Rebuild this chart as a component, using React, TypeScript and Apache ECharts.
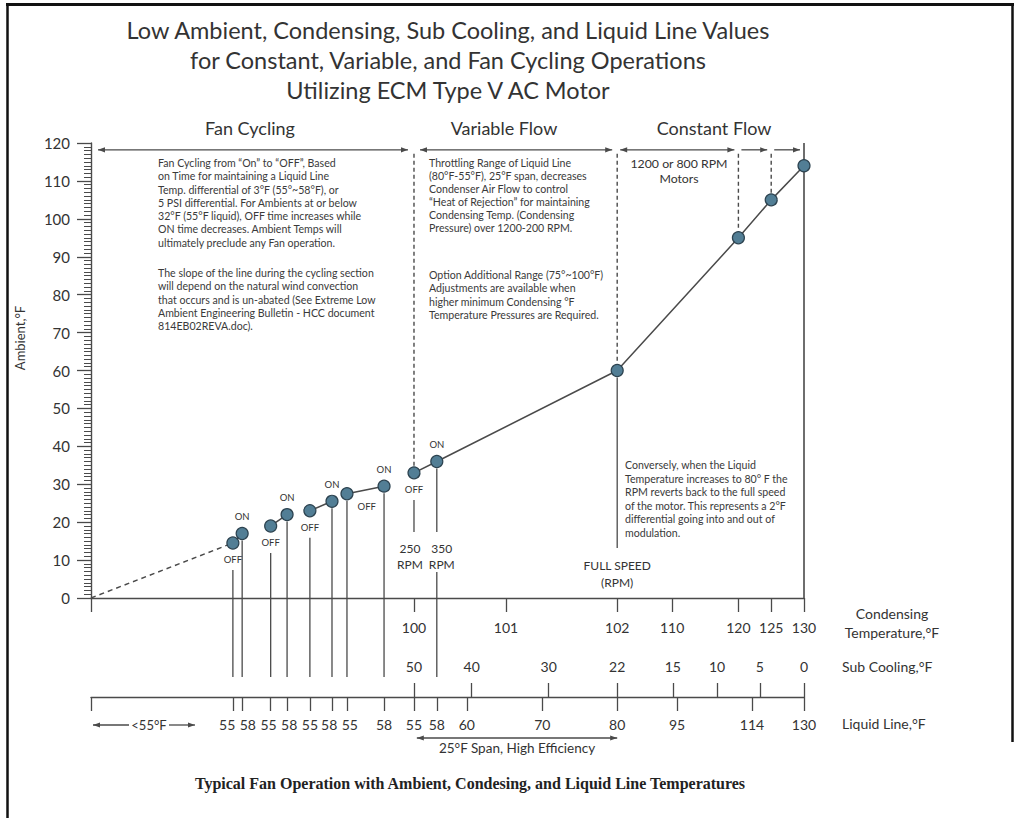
import React, { useEffect, useRef } from "react";
import * as echarts from "echarts";

// ---- Data (schematic horizontal position: 0 = origin, 100 = 130°F end) ----
const pointPos = [19.9, 21.2, 25.2, 27.5, 30.7, 33.8, 35.9, 41.1, 45.3, 48.5, 73.8, 90.8, 95.4, 100];
const ambient = [14.5, 17, 19, 22, 23, 25.5, 27.5, 29.5, 33, 36, 60, 95, 105, 114];
const pointState = ["OFF", "ON", "OFF", "ON", "OFF", "ON", "OFF", "ON", "OFF", "ON", "", "", "", ""];

const condensingPos = [45.3, 58.2, 73.8, 81.5, 90.8, 95.4, 100];
const condensingLabels = ["100", "101", "102", "110", "120", "125", "130"];
const subCoolPos = [45.3, 53.4, 64.2, 73.8, 81.6, 87.8, 93.8, 100];
const subCoolLabels = ["50", "40", "30", "22", "15", "10", "5", "0"];
const liquidPos = [19.9, 21.2, 25.2, 27.5, 30.7, 33.8, 35.9, 41.1, 45.3, 48.5, 52.7, 63.3, 73.8, 82.2, 92.7, 100];
const liquidLabels = ["55", "58", "55", "58", "55", "58", "55", "58", "55", "58", "60", "70", "80", "95", "114", "130"];
const yTicks = [0, 120, 10];

const titleLines = [
  "Low Ambient, Condensing, Sub Cooling, and Liquid Line Values",
  "for Constant, Variable, and Fan Cycling Operations",
  "Utilizing ECM Type V AC Motor",
];
const fanText1 = [
  "Fan Cycling from \u201COn\u201D to \u201COFF\u201D, Based",
  "on Time for maintaining a Liquid Line",
  "Temp. differential of 3°F (55°~58°F), or",
  "5 PSI differential. For Ambients at or below",
  "32°F (55°F liquid), OFF time increases while",
  "ON time decreases. Ambient Temps will",
  "ultimately preclude any Fan operation.",
];
const fanText2 = [
  "The slope of the line during the cycling section",
  "will depend on the natural wind convection",
  "that occurs and is un-abated (See Extreme Low",
  "Ambient Engineering Bulletin - HCC document",
  "814EB02REVA.doc).",
];
const varText1 = [
  "Throttling Range of Liquid Line",
  "(80°F-55°F), 25°F span, decreases",
  "Condenser Air Flow to control",
  "\u201CHeat of Rejection\u201D for maintaining",
  "Condensing Temp. (Condensing",
  "Pressure) over 1200-200 RPM.",
];
const varText2 = [
  "Option Additional Range (75°~100°F)",
  "Adjustments are available when",
  "higher minimum Condensing °F",
  "Temperature Pressures are Required.",
];
const rightText = [
  "Conversely, when the Liquid",
  "Temperature increases to 80° F the",
  "RPM reverts back to the full speed",
  "of the motor. This represents a 2°F",
  "differential going into and out of",
  "modulation.",
];

const FONT = "Lato, 'Noto Sans', sans-serif";
const INK = "#333333";
const LINE = "#4a4a4a";

const key = (v: number) => Number(v).toFixed(3);

export default function App() {
  const ref = useRef<HTMLDivElement>(null);

  useEffect(() => {
    document.body.style.margin = "0";
    const chart = echarts.init(ref.current!, null, { renderer: "svg" });

    const pts = pointPos.map((x, i) => [x, ambient[i]]);

    const condMap = new Map<string, string>();
    condensingPos.forEach((p, i) => condMap.set(key(p), condensingLabels[i]));
    const subMap = new Map<string, string>();
    subCoolPos.forEach((p, i) => subMap.set(key(p), subCoolLabels[i]));
    const liquidLabelPos = liquidPos.slice();
    for (let i = 0; i < liquidPos.length - 1; i++) {
      if (liquidPos[i + 1] - liquidPos[i] < 2.6) {
        const mid = (liquidPos[i] + liquidPos[i + 1]) / 2;
        liquidLabelPos[i] = mid - 1.45;
        liquidLabelPos[i + 1] = mid + 1.45;
        i++;
      }
    }
    const liqMap = new Map<string, string>();
    liquidLabelPos.forEach((p, i) => liqMap.set(key(p), liquidLabels[i]));

    const labelSide = ["below", "above", "below", "above", "below", "above", "right", "above", "below", "above"];

    const segments = [
      [pts[0], pts[1]],
      [pts[2], pts[3]],
      [pts[4], pts[5]],
      [pts[6], pts[7]],
      pts.slice(8),
    ];

    const axisFont = { fontSize: 14, fontFamily: FONT, color: INK };
    const lineStyle = { color: LINE, width: 1.3 };

    const scatterData = pts.map((p, i) => {
      const s = pointState[i];
      let label: any = { show: false };
      if (s) {
        const side = labelSide[i];
        if (side === "above") label = { show: true, position: "top", distance: 5 };
        else if (side === "below") label = { show: true, position: "bottom", distance: 5 };
        else label = { show: true, position: "right", distance: 4, offset: [0, 13] };
        label.formatter = s;
      }
      return { value: p, label };
    });

    const option: any = {
      animation: false,
      grid: { left: 91, top: 143, width: 713, height: 455, containLabel: false, outerBoundsMode: "none" },
      xAxis: [
        {
          type: "value", min: 0, max: 100, position: "bottom",
          axisLine: { show: true, onZero: false, lineStyle: { color: LINE, width: 1.4 } },
          axisTick: { show: true, length: 14, customValues: [0, ...condensingPos], lineStyle },
          axisLabel: { show: true, customValues: condensingPos, formatter: (v: number) => condMap.get(key(v)) ?? "", margin: 22, ...axisFont },
          splitLine: { show: false },
        },
        {
          type: "value", min: 0, max: 100, position: "bottom", offset: 99,
          axisLine: { show: true, onZero: false, lineStyle: { color: LINE, width: 1.4 } },
          axisTick: { show: true, length: 14, customValues: [0, ...liquidPos], lineStyle },
          axisLabel: { show: true, customValues: liquidLabelPos, formatter: (v: number) => liqMap.get(key(v)) ?? "", margin: 20, ...axisFont },
          splitLine: { show: false },
        },
        {
          type: "value", min: 0, max: 100, position: "bottom", offset: 99,
          axisLine: { show: false, onZero: false },
          axisTick: { show: true, inside: true, length: 14, customValues: subCoolPos, lineStyle },
          axisLabel: { show: true, inside: true, customValues: subCoolPos, formatter: (v: number) => subMap.get(key(v)) ?? "", margin: 24, ...axisFont },
          splitLine: { show: false },
        },
      ],
      yAxis: {
        type: "value", min: yTicks[0], max: yTicks[1], interval: yTicks[2],
        axisLine: { show: true, lineStyle: { color: LINE, width: 1.4 } },
        axisTick: { show: true, length: 14, lineStyle },
        minorTick: { show: true, splitNumber: 10, length: 7, lineStyle: { color: LINE, width: 1 } },
        axisLabel: { margin: 21, ...axisFont, fontSize: 15 },
        splitLine: { show: false },
        minorSplitLine: { show: false },
      },
      series: [
        {
          type: "scatter", data: scatterData, symbol: "circle", symbolSize: 12, z: 5, silent: true,
          itemStyle: { color: "#527e95", borderColor: "#2d4350", borderWidth: 1.2, opacity: 1 },
          label: { fontSize: 9.5, fontFamily: FONT, color: INK },
        },
        {
          type: "line", data: [[0, 0], pts[0]], symbol: "none", silent: true, z: 2,
          lineStyle: { color: LINE, width: 1.4, type: [5, 4] },
        },
        ...segments.map((seg) => ({
          type: "line", data: seg, symbol: "none", silent: true, z: 2,
          lineStyle: { color: LINE, width: 1.5 },
        })),
      ],
    };
    chart.setOption(option);

    const P = (x: number, y: number) => chart.convertToPixel({ seriesIndex: 0 }, [x, y]) as number[];
    const X = (x: number) => P(x, 0)[0];
    const y0 = P(0, 0)[1];
    const yTop = P(0, 120)[1];
    const yArrow = P(0, 118.2)[1];

    const g: any[] = [];
    const line = (x1: number, y1: number, x2: number, y2: number, extra: any = {}) =>
      g.push({ type: "line", silent: true, z: 3, shape: { x1, y1, x2, y2 }, style: { stroke: LINE, lineWidth: 1.3, ...extra } });
    const text = (x: number, y: number, t: string, extra: any = {}) =>
      g.push({
        type: "text", silent: true, z: 6, x, y,
        style: { text: t, fill: INK, fontFamily: FONT, fontSize: 12, align: "left", verticalAlign: "middle", ...extra },
      });
    const arrow = (x: number, y: number, dir: number) =>
      g.push({ type: "polygon", silent: true, z: 3, shape: { points: [[x, y], [x - dir * 7, y - 2.6], [x - dir * 7, y + 2.6]] }, style: { fill: LINE } });
    const arrowLine = (xa: number, xb: number, y: number, left: boolean, right: boolean) => {
      line(xa, y, xb, y);
      if (left) arrow(xa, y, -1);
      if (right) arrow(xb, y, 1);
    };

    // Frame
    line(7.5, 3, 7.5, 818, { stroke: "#111", lineWidth: 2.5 });
    line(6, 4.5, 1014, 4.5, { stroke: "#111", lineWidth: 3 });
    line(1012.5, 3, 1012.5, 742, { stroke: "#111", lineWidth: 2.5 });

    // Title
    titleLines.forEach((t, i) => text(448, 30 + i * 30, t, { fontSize: 23.5, align: "center", fill: "#333" }));

    const xP9 = X(pointPos[8]);
    const xP10 = X(pointPos[9]);
    const xP11 = X(pointPos[10]);
    const xP12 = X(pointPos[11]);
    const xP13 = X(pointPos[12]);
    const xEnd = X(100);
    text(250, 128, "Fan Cycling", { fontSize: 18, align: "center" });
    text(504, 128, "Variable Flow", { fontSize: 18, align: "center" });
    text(714, 128, "Constant Flow", { fontSize: 18, align: "center" });

    // Top arrows
    arrowLine(X(0) + 7, xP9 - 6, yArrow, true, true);
    arrowLine(xP9 + 6, xP11 - 5, yArrow, true, true);
    arrowLine(xP11 + 3, xP12 - 4, yArrow, true, true);
    arrowLine(xP12 + 3, xP13 - 4, yArrow, false, true);
    arrowLine(xP13 + 3, xEnd - 4, yArrow, false, true);

    // Dashed boundaries
    [8, 10, 11, 12].forEach((i) => {
      const [x, y] = P(pointPos[i], ambient[i]);
      line(x, yArrow + 4, x, y - 7, { lineDash: [4, 3], lineWidth: 1.4 });
    });
    line(xEnd, yTop, xEnd, y0, { lineWidth: 1.6 });

    // Drop lines
    for (let i = 0; i < 11; i++) {
      const [x, y] = P(pointPos[i], ambient[i]);
      const top = labelSide[i] === "below" ? y + 27 : y + 7;
      if (i === 8) line(x, top, x, y0 - 66);
      else if (i === 9) {
        line(x, top, x, y0 - 66);
        line(x, y0 - 26, x, y0 + 79);
      } else if (i === 10) line(x, top, x, y0 - 50);
      else line(x, top, x, y0 + 79);
    }

    // Text blocks
    const block = (x: number, yc: number, lines: string[], lh: number, extra: any = {}) =>
      text(x, yc - lh / 2, lines.join("\n"), { fontSize: 10.6, lineHeight: lh, verticalAlign: "top", fill: "#3a3a3a", ...extra });
    block(158, 163, fanText1, 13.3);
    block(158, 273, fanText2, 13.3);
    block(429, 163, varText1, 13);
    block(429, 275, varText2, 13.3);
    block(625, 465, rightText, 13.6);
    text(679, 156, "1200 or 800 RPM\nMotors", { fontSize: 12.3, lineHeight: 15, align: "center", verticalAlign: "top" });

    text(xP9 - 4, y0 - 58, "250\nRPM", { fontSize: 12, lineHeight: 16, align: "center", verticalAlign: "top" });
    text(xP10 + 5, y0 - 58, "350\nRPM", { fontSize: 12, lineHeight: 16, align: "center", verticalAlign: "top" });
    text(xP11, y0 - 41, "FULL SPEED\n(RPM)", { fontSize: 12, lineHeight: 17, align: "center", verticalAlign: "top" });

    // Right side axis titles
    text(892, y0 + 15, "Condensing", { fontSize: 14, align: "center" });
    text(892, y0 + 34, "Temperature,°F", { fontSize: 14, align: "center" });
    text(842, y0 + 68, "Sub Cooling,°F", { fontSize: 14 });
    text(842, y0 + 125, "Liquid Line,°F", { fontSize: 14 });

    g.push({
      type: "text", silent: true, z: 6, x: 20, y: 338, rotation: Math.PI / 2,
      style: { text: "Ambient,°F", fill: INK, fontFamily: FONT, fontSize: 13, align: "center", verticalAlign: "middle" },
    });

    // Bottom annotations
    const yLt = y0 + 127;
    text(149, yLt, "<55°F", { fontSize: 13, align: "center" });
    line(X(0) + 2, yLt, 129, yLt);
    arrow(X(0) + 2, yLt, -1);
    line(169, yLt, 195, yLt);
    arrow(195, yLt, 1);

    const ySpan = y0 + 140;
    const xs1 = X(45.7);
    const xs2 = X(73.8);
    arrowLine(xs1, xs2, ySpan, true, true);
    text((xs1 + xs2) / 2, y0 + 150, "25°F Span, High Efficiency", { fontSize: 13.5, align: "center" });

    // Caption
    text(470, 783, "Typical Fan Operation with Ambient, Condesing, and Liquid Line Temperatures", {
      fontFamily: "'Liberation Serif', 'DejaVu Serif', serif", fontWeight: "bold", fontSize: 16, align: "center", fill: "#222",
    });

    chart.setOption({ graphic: g });

    return () => chart.dispose();
  }, []);

  return <div ref={ref} style={{ position: "absolute", left: 0, top: 0, width: 1016, height: 818, background: "#fff" }} />;
}
